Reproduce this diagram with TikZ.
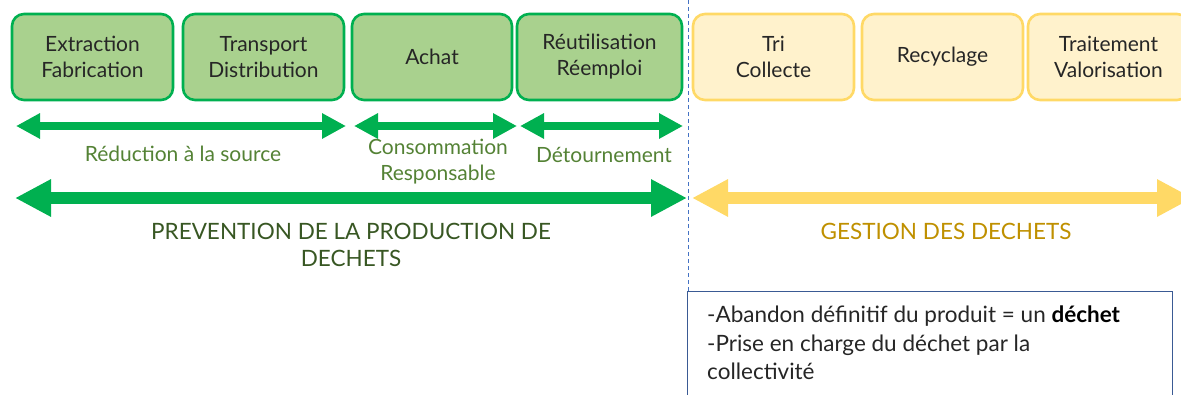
\documentclass[tikz,border=0pt]{standalone}
\usepackage{fontspec}
\setmainfont{Lato}
\usetikzlibrary{arrows.meta}

\definecolor{grnline}{HTML}{00B050}
\definecolor{grnfill}{HTML}{A9D18E}
\definecolor{ylwline}{HTML}{FFD966}
\definecolor{ylwfill}{HTML}{FFF2CC}
\definecolor{boxtext}{HTML}{262626}
\definecolor{sublabel}{HTML}{548235}
\definecolor{prevtext}{HTML}{385723}
\definecolor{gesttext}{HTML}{BF9000}
\definecolor{sepline}{HTML}{4472C4}
\definecolor{noteline}{HTML}{3A5A94}

\tikzset{
  stage/.style={rounded corners=12pt, line width=2.6pt, minimum height=86pt,
    inner sep=0pt, align=center, text=boxtext,
    font=\fontsize{21}{26}\selectfont},
  prevstage/.style={stage, draw=grnline, fill=grnfill},
  gststage/.style={stage, draw=ylwline, fill=ylwfill},
  spanlbl/.style={text=sublabel, align=center, inner sep=0pt,
    font=\fontsize{21}{26}\selectfont},
  biglbl/.style={align=center, inner sep=0pt,
    font=\fontsize{22.5}{27}\selectfont},
  smallspan/.style={line width=8pt, draw=grnline,
    {Triangle[length=24pt,width=24pt]}-{Triangle[length=24pt,width=24pt]}},
  bigspan/.style={line width=12pt,
    {Triangle[length=36pt,width=35pt]}-{Triangle[length=36pt,width=35pt]}}
}

\begin{document}
\begin{tikzpicture}[x=1pt,y=-1pt]
\useasboundingbox (0,0) rectangle (1181,394);
\clip (0,0) rectangle (1181,394);

% life-cycle stages
\node[prevstage, minimum width=161pt] (extr) at (92.5,57) {Extraction\\Fabrication};
\node[prevstage, minimum width=161pt] (trans) at (263.5,57) {Transport\\Distribution};
\node[prevstage, minimum width=160pt] (achat) at (432,57) {Achat};
\node[prevstage, minimum width=165pt] (reut) at (599.5,57) {Réutilisation\\Réemploi};
\node[gststage, minimum width=161pt] (tri) at (773.5,57) {Tri\\Collecte};
\node[gststage, minimum width=161pt] (recy) at (942.5,57) {Recyclage};
\node[gststage, minimum width=161pt] (trait) at (1108.5,57) {Traitement\\Valorisation};

% separator between prevention and waste management
\coordinate (septop) at (688,0);
\coordinate (sepbot) at (688,291);
\draw[sepline, line width=1pt, dash pattern=on 4pt off 3pt] (septop) -- (sepbot);

% prevention sub-spans
\coordinate (s1l) at (16,126);  \coordinate (s1r) at (346,126);
\coordinate (s2l) at (354,126); \coordinate (s2r) at (517,126);
\coordinate (s3l) at (520,126); \coordinate (s3r) at (683,126);
\draw[smallspan] (s1l) -- (s1r);
\draw[smallspan] (s2l) -- (s2r);
\draw[smallspan] (s3l) -- (s3r);

\node[spanlbl] (reduc) at (183,154) {Réduction à la source};
\node[spanlbl] (conso) at (438,162) {Consommation\\Responsable};
\node[spanlbl] (detour) at (604,155) {Détournement};

% main spans
\coordinate (pl) at (15,198);  \coordinate (pr) at (687,198);
\coordinate (gl) at (692,198); \coordinate (gr) at (1193,198);
\draw[bigspan, draw=grnline, fill=grnline] (pl) -- (pr);
\draw[bigspan, draw=ylwline, fill=ylwline] (gl) -- (gr);

\node[biglbl, text=prevtext] (prev) at (351,245) {PREVENTION DE LA PRODUCTION DE\\DECHETS};
\node[biglbl, text=gesttext] (gest) at (946,231) {GESTION DES DECHETS};

% definition note
\node[draw=noteline, line width=1.2pt, minimum width=485pt, minimum height=120pt,
  anchor=north west] (note) at (687,291) {};
\node[anchor=north west, align=left, inner sep=0pt, text=boxtext,
  font=\fontsize{22.5}{28.5}\selectfont] (notetxt) at (707,306)
  {-Abandon définitif du produit = un \textcolor{black}{\textbf{déchet}}\\
   -Prise en charge du déchet par la\\
   collectivité};
\end{tikzpicture}
\end{document}
